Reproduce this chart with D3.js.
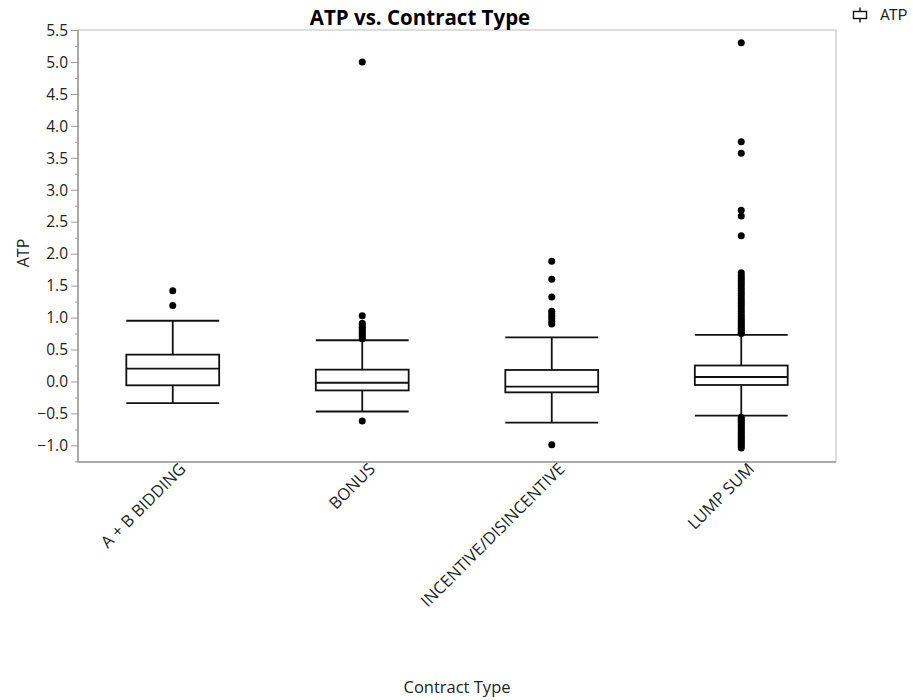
<!DOCTYPE html>
<html><head><meta charset="utf-8">
<script src="https://cdn.jsdelivr.net/npm/d3@7"></script>
<style>body{margin:0;background:#fff}svg{display:block}</style>
</head><body>
<script>
const categories = ["A + B BIDDING", "BONUS", "INCENTIVE/DISINCENTIVE", "LUMP SUM"];
const whiskerLow = [-0.34, -0.47, -0.645, -0.535];
const q1 = [-0.06, -0.14, -0.17, -0.055];
const median = [0.20, -0.02, -0.08, 0.07];
const q3 = [0.42, 0.185, 0.18, 0.25];
const whiskerHigh = [0.95, 0.645, 0.69, 0.73];
const outliersAB = [1.42, 1.19];
const outliersBonus = [5.0, 1.03, 0.91, 0.88, 0.85, 0.82, 0.79, 0.76, 0.73, 0.70, 0.67, -0.62];
const outliersIncentive = [1.88, 1.60, 1.32, 1.10, 1.06, 1.02, 0.98, 0.94, 0.90, -0.99];
const outliersLump = [5.30, 3.75, 3.57, 2.68, 2.59, 2.28, 1.70, 1.66, 1.62, 1.58, 1.54, 1.50, 1.46, 1.42, 1.38, 1.34, 1.30, 1.26, 1.22, 1.18, 1.14, 1.10, 1.06, 1.02, 0.98, 0.95, 0.92, 0.89, 0.86, 0.83, 0.80, 0.77, 0.75,
  -0.56, -0.59, -0.62, -0.65, -0.68, -0.71, -0.74, -0.77, -0.80, -0.83, -0.86, -0.89, -0.92, -0.95, -0.98, -1.01, -1.04];
const outliers = [outliersAB, outliersBonus, outliersIncentive, outliersLump];
const yTicks = [-1.0, -0.5, 0.0, 0.5, 1.0, 1.5, 2.0, 2.5, 3.0, 3.5, 4.0, 4.5, 5.0, 5.5];

const W = 913, H = 700;
const m = {left: 78, right: 836, top: 30, bottom: 462};
const font = "'Open Sans', 'Noto Sans', sans-serif";

const svg = d3.select("body").append("svg").attr("width", W).attr("height", H);

const x = d3.scaleBand().domain(categories).range([m.left, m.right]);
const y = d3.scaleLinear().domain([-1.26, 5.5]).range([m.bottom, m.top]);

// frame
svg.append("rect").attr("x", m.left).attr("y", m.top)
  .attr("width", m.right - m.left).attr("height", m.bottom - m.top)
  .attr("fill", "#fff").attr("stroke", "#c8c8c8").attr("stroke-width", 1.2);

// y axis
const minor = d3.range(-1.25, 5.5, 0.5).map(v => +v.toFixed(2));
const yAxisMinor = d3.axisLeft(y).tickValues(minor).tickSize(3).tickFormat("");
const gMinor = svg.append("g").attr("transform", `translate(${m.left},0)`).call(yAxisMinor);
gMinor.select(".domain").remove();
gMinor.selectAll("line").attr("stroke", "#999");

const yAxis = d3.axisLeft(y).tickValues(yTicks).tickSize(7).tickPadding(3).tickFormat(d3.format(".1f"));
const gy = svg.append("g").attr("transform", `translate(${m.left},0)`).call(yAxis);
gy.select(".domain").attr("stroke", "#999").attr("stroke-width", 1.5).attr("d", `M0,${m.top}V${m.bottom}`);
gy.selectAll("line").attr("stroke", "#999");
gy.selectAll("text").attr("font-family", font).attr("font-size", 15.5).attr("fill", "#222").attr("dy", "0.34em");

// x axis
const xAxis = d3.axisBottom(x).tickSize(0).tickPadding(0);
const gx = svg.append("g").attr("transform", `translate(0,${m.bottom})`).call(xAxis);
gx.select(".domain").attr("stroke", "#999").attr("stroke-width", 1.5).attr("d", `M${m.left},0H${m.right}`);
gx.selectAll("text")
  .attr("font-family", font).attr("font-size", 16.5).attr("fill", "#222")
  .attr("text-anchor", "end").attr("dy", null).attr("y", 0)
  .attr("transform", "translate(14,8) rotate(-45)");

// boxes
const bw = x.bandwidth() * 0.49;
const data = categories.map((c, i) => ({c, lo: whiskerLow[i], q1: q1[i], med: median[i], q3: q3[i], hi: whiskerHigh[i], out: outliers[i]}));
const g = svg.append("g");
data.forEach(d => {
  const cx = x(d.c) + x.bandwidth() / 2;
  const gg = g.append("g").attr("stroke", "#111").attr("stroke-width", 1.8).attr("fill", "none");
  gg.append("line").attr("x1", cx).attr("x2", cx).attr("y1", y(d.hi)).attr("y2", y(d.q3));
  gg.append("line").attr("x1", cx).attr("x2", cx).attr("y1", y(d.q1)).attr("y2", y(d.lo));
  gg.append("line").attr("x1", cx - bw / 2).attr("x2", cx + bw / 2).attr("y1", y(d.hi)).attr("y2", y(d.hi));
  gg.append("line").attr("x1", cx - bw / 2).attr("x2", cx + bw / 2).attr("y1", y(d.lo)).attr("y2", y(d.lo));
  gg.append("rect").attr("x", cx - bw / 2).attr("width", bw).attr("y", y(d.q3)).attr("height", y(d.q1) - y(d.q3));
  gg.append("line").attr("x1", cx - bw / 2).attr("x2", cx + bw / 2).attr("y1", y(d.med)).attr("y2", y(d.med));
  g.append("g").selectAll("circle").data(d.out).join("circle")
    .attr("cx", cx).attr("cy", v => y(v)).attr("r", 3.5).attr("fill", "#000");
});

// title
svg.append("text").attr("x", 420).attr("y", 25).attr("text-anchor", "middle")
  .attr("font-family", font).attr("font-weight", "bold").attr("font-size", 20.5).attr("fill", "#000")
  .text("ATP vs. Contract Type");

// y label
svg.append("text").attr("transform", `translate(29,253) rotate(-90)`).attr("text-anchor", "middle")
  .attr("font-family", font).attr("font-size", 16).attr("fill", "#222").text("ATP");

// x label
svg.append("text").attr("x", 457).attr("y", 693).attr("text-anchor", "middle")
  .attr("font-family", font).attr("font-size", 16.5).attr("fill", "#222").text("Contract Type");

// legend (vertical box-plot icon)
const lg = svg.append("g").attr("transform", "translate(860,15)").attr("stroke", "#111").attr("stroke-width", 1.4).attr("fill", "none");
lg.append("rect").attr("x", -6.5).attr("y", -3.5).attr("width", 13).attr("height", 7);
lg.append("line").attr("x1", 0).attr("x2", 0).attr("y1", -7.5).attr("y2", -3.5);
lg.append("line").attr("x1", 0).attr("x2", 0).attr("y1", 3.5).attr("y2", 7.5);
svg.append("text").attr("x", 880).attr("y", 20).attr("font-family", "Roboto, 'Noto Sans', sans-serif").attr("font-size", 15).attr("fill", "#222").text("ATP");
</script>
</body></html>
